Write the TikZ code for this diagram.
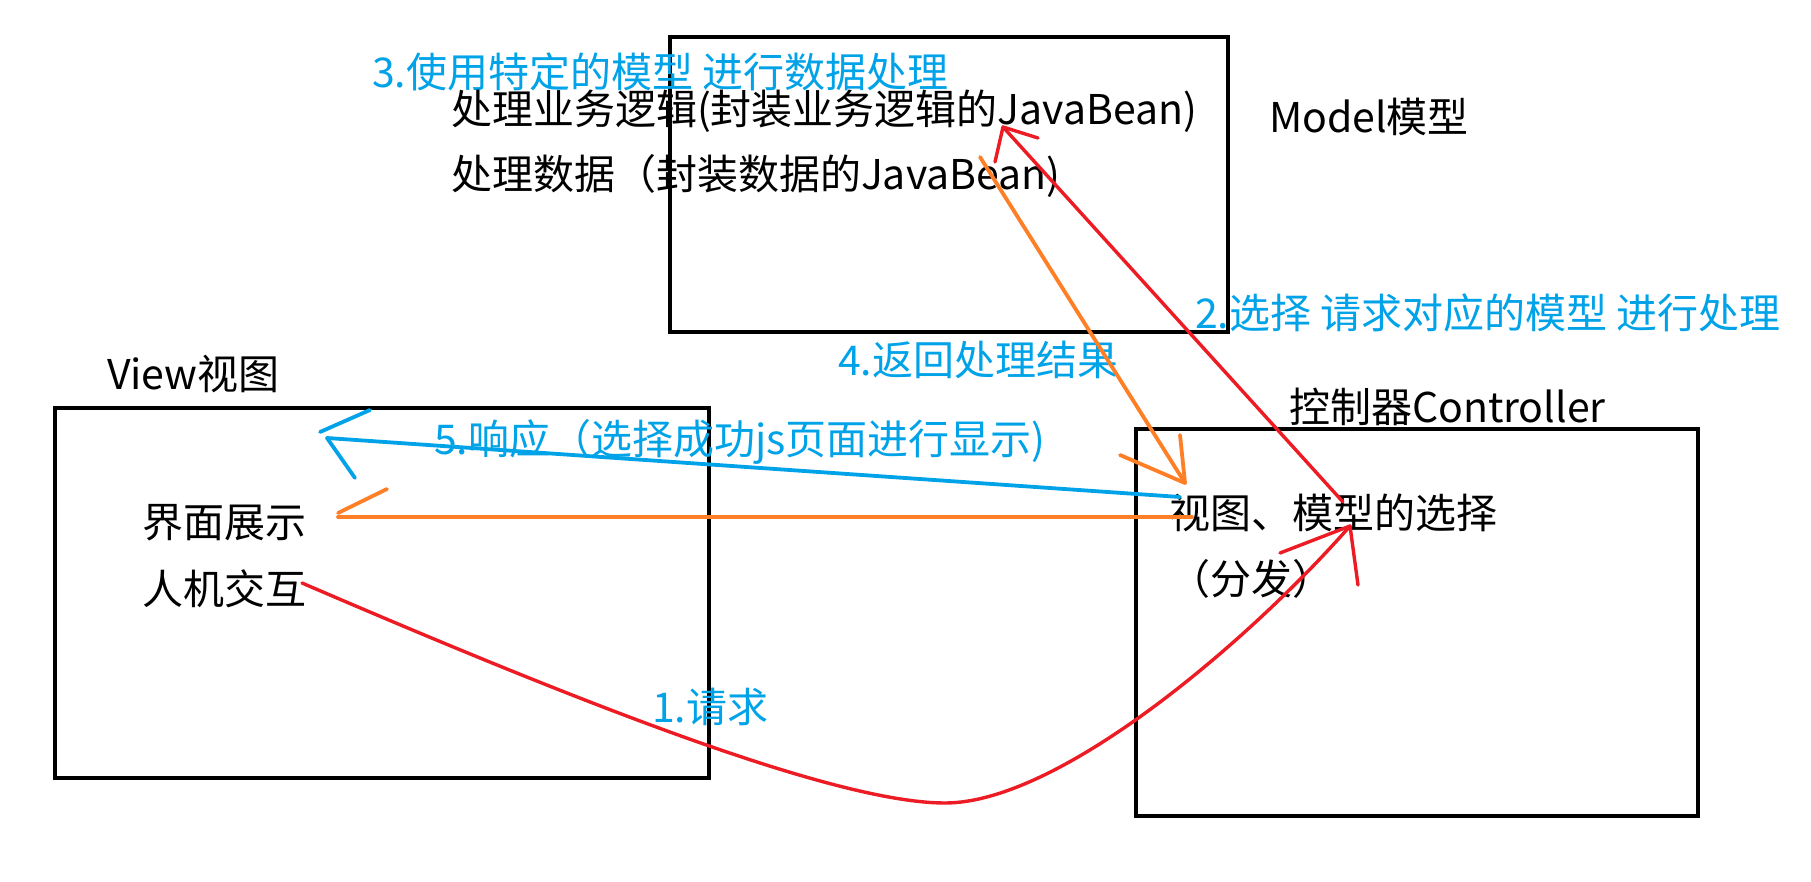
\documentclass[tikz,border=0pt]{standalone}
\usepackage{fontspec}
\setmainfont{Noto Sans CJK SC}
\definecolor{pred}{RGB}{237,28,36}
\definecolor{porange}{RGB}{255,127,39}
\definecolor{pblue}{RGB}{0,162,232}
\begin{document}
\begin{tikzpicture}[x=1pt,y=-1pt,
  boxn/.style={draw=black, line width=4.5pt, inner sep=0pt, outer sep=0pt},
  txt/.style={anchor=base west, inner sep=0pt, outer sep=0pt, text=black, font=\fontsize{41}{49}\selectfont},
  lbl/.style={txt, text=pblue},
  redln/.style={draw=pred, line width=3.4pt, line cap=round, line join=round},
  orln/.style={draw=porange, line width=3.8pt, line cap=round, line join=round},
  blln/.style={draw=pblue, line width=3.8pt, line cap=round, line join=round}]
\fill[white] (0,0) rectangle (1811,882);
\useasboundingbox (0,0) rectangle (1811,882);

% boxes
\node[boxn, minimum width=558pt, minimum height=295pt] (model) at (949,184.5) {};
\node[boxn, minimum width=654pt, minimum height=370pt] (view) at (382,593) {};
\node[boxn, minimum width=562pt, minimum height=387pt] (ctrl) at (1417,622.5) {};

% texts
\node[lbl] (t3) at (372,88) {3.使用特定的模型 进行数据处理};
\node[txt] (m1) at (451,125) {处理业务逻辑(封装业务逻辑的JavaBean)};
\node[txt] (m2) at (451,190) {处理数据（封装数据的JavaBean)};
\node[txt] (mt) at (1269,133) {Model模型};
\node[txt] (vt) at (107,389) {View视图};
\node[txt] (v1) at (142,537) {界面展示};
\node[txt] (v2) at (142,604) {人机交互};
\node[txt] (ct) at (1289,422) {控制器Controller};
\node[txt] (c1) at (1169,528) {视图、模型的选择};
\node[txt] (c2) at (1169,594) {（分发）};
\node[lbl] (l2) at (1195,328) {2.选择 请求对应的模型 进行处理};
\node[lbl] (l4) at (838,375) {4.返回处理结果};
\node[lbl] (l5) at (434,454) {5.响应（选择成功js页面进行显示)};
\node[lbl] (l1) at (652,722) {1.请求};

% connector end points
\coordinate (r1s) at (302,583);
\coordinate (r1b) at (945,803);
\coordinate (r1t) at (1350,526);
\coordinate (r1a) at (1280,553);
\coordinate (r1c) at (1358,585);

\coordinate (r2s) at (1343,502);
\coordinate (r2t) at (1003,127);
\coordinate (r2a) at (1038,138);
\coordinate (r2c) at (995,162);

\coordinate (o4s) at (980,157);
\coordinate (o4t) at (1185,483);
\coordinate (o4a) at (1180,435);
\coordinate (o4c) at (1120,455);

\coordinate (b5s) at (1180,497);
\coordinate (b5t) at (327,438);
\coordinate (b5u) at (320,432);
\coordinate (b5a) at (370,410);
\coordinate (b5c) at (355,478);

\coordinate (o6s) at (1192,517);
\coordinate (o6t) at (338,517);
\coordinate (o6u) at (338,513);
\coordinate (o6a) at (387,489);

% 1. request (red curve)
\draw[redln] (r1s) .. controls (560,694) and (830,803) .. (r1b)
                   .. controls (1060,803) and (1250,640) .. (r1t);
\draw[redln] (r1a) -- (r1t) -- (r1c);

% 2. select model (red)
\draw[redln] (r2s) -- (r2t);
\draw[redln] (r2a) -- (r2t) -- (r2c);

% 4. return result (orange)
\draw[orln] (o4s) -- (o4t);
\draw[orln] (o4a) -- (o4t) -- (o4c);

% 5. response (blue)
\draw[blln] (b5s) -- (b5t);
\draw[blln] (b5u) -- (b5a);
\draw[blln] (b5t) -- (b5c);

% orange line to view
\draw[orln] (o6s) -- (o6t);
\draw[orln] (o6u) -- (o6a);
\end{tikzpicture}
\end{document}
